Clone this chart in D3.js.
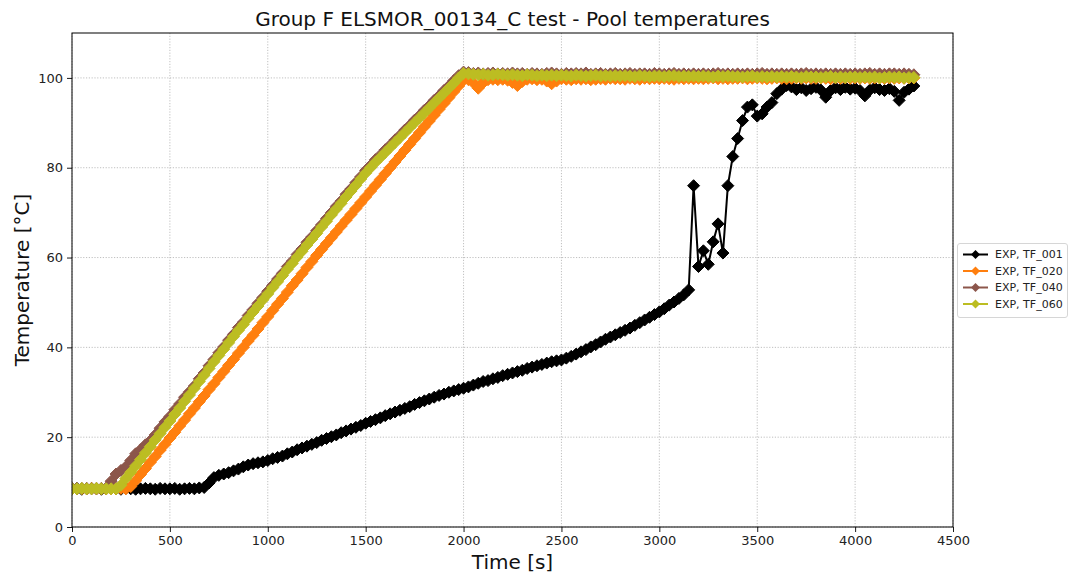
<!DOCTYPE html>
<html><head><meta charset="utf-8">
<script src="https://cdn.jsdelivr.net/npm/d3@7"></script>
<style>body{margin:0;background:#fff} text{font-family:"DejaVu Sans",sans-serif}</style>
</head><body><svg id="c" width="1070" height="575"></svg>
<script>
const time = [
0,25,50,75,100,125,150,175,
200,225,250,275,300,325,350,375,
400,425,450,475,500,525,550,575,
600,625,650,675,700,725,750,775,
800,825,850,875,900,925,950,975,
1000,1025,1050,1075,1100,1125,1150,1175,
1200,1225,1250,1275,1300,1325,1350,1375,
1400,1425,1450,1475,1500,1525,1550,1575,
1600,1625,1650,1675,1700,1725,1750,1775,
1800,1825,1850,1875,1900,1925,1950,1975,
2000,2025,2050,2075,2100,2125,2150,2175,
2200,2225,2250,2275,2300,2325,2350,2375,
2400,2425,2450,2475,2500,2525,2550,2575,
2600,2625,2650,2675,2700,2725,2750,2775,
2800,2825,2850,2875,2900,2925,2950,2975,
3000,3025,3050,3075,3100,3125,3150,3175,
3200,3225,3250,3275,3300,3325,3350,3375,
3400,3425,3450,3475,3500,3525,3550,3575,
3600,3625,3650,3675,3700,3725,3750,3775,
3800,3825,3850,3875,3900,3925,3950,3975,
4000,4025,4050,4075,4100,4125,4150,4175,
4200,4225,4250,4275,4300];

const tf001 = [
8.5,8.6,8.4,8.5,8.6,8.5,8.4,8.5,
8.6,8.5,8.4,8.6,8.5,8.4,8.5,8.6,
8.5,8.4,8.6,8.5,8.5,8.6,8.4,8.5,
8.6,8.5,8.7,8.8,9.8,11.0,11.5,11.8,
12.1,12.5,12.9,13.4,13.8,14.1,14.3,14.5,
14.8,15.2,15.5,15.8,16.3,16.7,17.2,17.6,
18.0,18.4,18.8,19.3,19.7,20.1,20.5,21.0,
21.4,21.8,22.2,22.6,23.1,23.5,23.9,24.3,
24.8,25.2,25.6,26.0,26.4,26.8,27.3,27.7,
28.1,28.5,28.9,29.3,29.6,30.0,30.3,30.6,
30.9,31.2,31.6,32.0,32.4,32.6,33.0,33.3,
33.7,34.0,34.3,34.6,34.9,35.3,35.6,35.9,
36.2,36.5,36.8,37.0,37.2,37.6,38.0,38.5,
39.0,39.5,40.1,40.6,41.2,41.8,42.3,42.8,
43.3,43.8,44.3,44.9,45.5,46.1,46.7,47.3,
47.9,48.6,49.4,50.1,50.9,51.7,52.8,76.0,
58.0,61.5,58.5,63.5,67.5,61.0,76.0,82.5,
86.5,90.5,93.5,94.0,91.5,92.0,93.5,94.5,
96.5,97.5,98.3,98.0,97.4,97.8,97.2,97.6,
97.9,97.3,95.7,97.2,97.8,97.4,97.9,97.5,
97.7,97.2,96.0,97.3,97.8,97.4,97.2,97.6,
97.0,95.0,96.8,97.5,98.2];

const tf020 = [
8.5,8.5,8.5,8.5,8.6,8.5,8.5,8.5,
8.5,8.5,8.6,8.5,9.0,10.3,11.7,13.0,
14.4,15.7,17.1,18.4,19.8,21.1,22.5,23.8,
25.2,26.5,27.9,29.2,30.6,31.9,33.3,34.6,
36.0,37.3,38.7,40.0,41.4,42.7,44.1,45.5,
46.8,48.2,49.6,50.9,52.3,53.7,55.0,56.4,
57.8,59.1,60.5,61.8,63.1,64.4,65.7,67.0,
68.3,69.6,70.9,72.2,73.5,74.8,76.1,77.4,
78.7,80.0,81.3,82.6,83.9,85.2,86.5,87.8,
89.1,90.4,91.7,93.0,94.3,95.6,96.9,98.2,
99.5,99.6,98.9,97.7,98.9,99.6,99.7,99.6,
99.7,99.5,99.0,98.3,99.2,99.7,99.8,99.6,
99.7,99.3,98.7,99.3,99.8,99.7,99.6,99.8,
99.7,99.8,99.6,99.7,99.8,99.7,99.9,99.8,
99.8,99.7,99.9,99.8,99.7,99.9,99.8,99.9,
99.8,99.9,99.8,99.7,99.9,99.8,99.9,99.8,
99.9,99.8,99.9,100.0,99.8,99.9,99.8,99.9,
99.9,100.0,99.8,99.9,100.0,99.9,99.8,99.9,
100.0,99.9,99.8,99.9,100.0,99.9,100.0,99.9,
99.9,100.0,99.9,99.8,100.0,99.9,100.0,99.9,
100.0,99.9,100.0,99.9,100.0,100.0,99.9,100.0,
99.9,100.0,99.9,100.0,100.0];

const tf040 = [
8.6,8.5,8.6,8.6,8.5,8.6,8.6,8.7,
10.2,11.8,12.6,13.4,14.8,16.3,17.2,18.3,
19.2,20.5,22.0,23.4,24.6,26.1,27.4,28.9,
30.1,31.4,33.0,34.3,35.9,37.3,38.8,40.1,
41.6,42.9,44.4,45.6,47.1,48.4,49.8,51.1,
52.5,53.8,55.2,56.5,58.0,59.2,60.7,61.9,
63.4,64.6,66.0,67.3,68.7,70.0,71.4,72.6,
74.1,75.3,76.7,78.0,79.4,80.5,81.8,82.8,
84.0,85.0,86.2,87.2,88.4,89.4,90.6,91.6,
92.8,93.8,95.0,96.0,97.2,98.2,99.4,100.5,
101.3,101.2,101.0,101.1,100.9,101.0,101.1,100.9,
101.0,100.9,101.1,100.9,101.0,100.8,101.0,100.9,
100.8,101.0,101.1,100.9,100.8,101.0,100.9,101.0,
100.9,101.1,100.8,100.9,101.0,100.8,100.9,101.0,
100.8,100.9,101.0,100.8,100.9,100.9,100.8,101.0,
100.9,100.8,100.9,101.0,100.8,100.9,100.8,100.9,
100.8,100.9,100.8,100.9,101.0,100.8,100.9,100.8,
100.9,100.8,100.9,100.8,100.9,101.0,100.8,100.9,
100.8,100.9,100.8,100.9,100.8,100.9,101.0,100.8,
100.9,100.8,100.9,100.8,100.9,100.8,100.9,100.8,
100.9,100.8,100.9,101.0,100.8,100.9,100.8,100.9,
100.9,100.8,100.9,100.8,100.7];

const tf060 = [
8.5,8.5,8.6,8.5,8.5,8.6,8.5,8.5,
8.5,8.5,9.3,10.8,12.2,13.6,15.0,16.5,
17.9,19.4,20.8,22.2,23.6,25.1,26.5,28.0,
29.4,30.9,32.4,33.8,35.3,36.8,38.2,39.6,
41.0,42.4,43.8,45.1,46.5,47.9,49.2,50.6,
51.9,53.3,54.6,56.0,57.4,58.7,60.1,61.4,
62.8,64.1,65.4,66.8,68.1,69.5,70.8,72.1,
73.5,74.8,76.1,77.5,78.8,80.0,81.2,82.3,
83.4,84.5,85.6,86.7,87.8,88.9,90.0,91.1,
92.2,93.3,94.4,95.5,96.6,97.7,98.8,100.0,
101.0,100.9,100.8,100.7,100.8,100.6,100.7,100.8,
100.7,100.6,100.7,100.6,100.5,100.7,100.6,100.5,
100.6,100.5,100.6,100.5,100.6,100.5,100.4,100.6,
100.5,100.4,100.5,100.6,100.4,100.5,100.4,100.5,
100.4,100.5,100.4,100.3,100.5,100.4,100.3,100.4,
100.4,100.3,100.4,100.5,100.3,100.4,100.3,100.4,
100.3,100.4,100.3,100.2,100.4,100.3,100.4,100.3,
100.3,100.2,100.3,100.4,100.2,100.3,100.2,100.3,
100.2,100.3,100.2,100.3,100.2,100.1,100.3,100.2,
100.2,100.1,100.2,100.3,100.1,100.2,100.1,100.2,
100.2,100.1,100.2,100.1,100.2,100.0,100.1,100.2,
100.1,100.2,100.0,100.1,100.1];

const seriesNames = ["EXP, TF_001","EXP, TF_020","EXP, TF_040","EXP, TF_060"];
const seriesColors = ["#000000","#ff7f0e","#8c564b","#bcbd22"];
const seriesValues = [tf001, tf020, tf040, tf060];
const xTicks = [0,500,1000,1500,2000,2500,3000,3500,4000,4500];
const yTicks = [0,20,40,60,80,100];

const svg = d3.select("#c");
const L=72, R=953, T=33, B=527;
const x = d3.scaleLinear().domain([0,4500]).range([L,R]);
const y = d3.scaleLinear().domain([0,110]).range([B,T]);

// grid
const grid = svg.append("g").attr("stroke","#b0b0b0").attr("stroke-width",0.8).attr("stroke-dasharray","1.2,1.6");
xTicks.forEach(v=>grid.append("line").attr("x1",x(v)).attr("x2",x(v)).attr("y1",T).attr("y2",B));
yTicks.forEach(v=>grid.append("line").attr("x1",L).attr("x2",R).attr("y1",y(v)).attr("y2",y(v)));

// clip
svg.append("clipPath").attr("id","clip").append("rect").attr("x",L).attr("y",T).attr("width",R-L).attr("height",B-T);
const plot = svg.append("g").attr("clip-path","url(#clip)");
const r = 6;
const diamond = `M0,${-r}L${r},0L0,${r}L${-r},0Z`;
const line = d3.line().x((d,i)=>x(time[i])).y(d=>y(d));
seriesValues.forEach((vals,k)=>{
  const g = plot.append("g");
  g.append("path").attr("d",line(vals)).attr("fill","none").attr("stroke",seriesColors[k]).attr("stroke-width",2);
  g.selectAll("path.m").data(vals).join("path").attr("class","m")
    .attr("d",diamond).attr("transform",(d,i)=>`translate(${x(time[i])},${y(d)})`)
    .attr("fill",seriesColors[k]).attr("stroke",seriesColors[k]).attr("stroke-width",1);
});

// axes
const ax = svg.append("g").attr("transform",`translate(0,${B})`)
  .call(d3.axisBottom(x).tickValues(xTicks).tickFormat(d3.format("d")).tickSize(5).tickPadding(4));
const ay = svg.append("g").attr("transform",`translate(${L},0)`)
  .call(d3.axisLeft(y).tickValues(yTicks).tickFormat(d3.format("d")).tickSize(5).tickPadding(4));
[ax,ay].forEach(a=>{
  a.select(".domain").remove();
  a.selectAll("line").attr("stroke","#000").attr("stroke-width",0.9);
  a.selectAll("text").attr("font-size",13).attr("fill","#222").attr("font-family","DejaVu Sans");
});
svg.append("rect").attr("x",L).attr("y",T).attr("width",R-L).attr("height",B-T)
  .attr("fill","none").attr("stroke","#000").attr("stroke-width",1);

// titles
svg.append("text").attr("x",(L+R)/2).attr("y",26).attr("text-anchor","middle")
  .attr("font-size",20).attr("fill","#111").text("Group F ELSMOR_00134_C test - Pool temperatures");
svg.append("text").attr("x",(L+R)/2).attr("y",569).attr("text-anchor","middle")
  .attr("font-size",20).attr("fill","#111").text("Time [s]");
svg.append("text").attr("transform",`translate(29,${(T+B)/2}) rotate(-90)`).attr("text-anchor","middle")
  .attr("font-size",20).attr("fill","#111").text("Temperature [°C]");

// legend
const lg = svg.append("g");
lg.append("rect").attr("x",957.5).attr("y",243.5).attr("width",110).attr("height",74).attr("rx",2.5)
  .attr("fill","#fff").attr("stroke","#d6d6d6").attr("stroke-width",1);
const rl = 4.5;
const diamondL = `M0,${-rl}L${rl},0L0,${rl}L${-rl},0Z`;
seriesNames.forEach((n,k)=>{
  const yy = 254.5 + k*16.5;
  lg.append("line").attr("x1",963).attr("x2",988).attr("y1",yy).attr("y2",yy).attr("stroke",seriesColors[k]).attr("stroke-width",2);
  lg.append("path").attr("d",diamondL).attr("transform",`translate(975.5,${yy})`).attr("fill",seriesColors[k]);
  lg.append("text").attr("x",995).attr("y",yy).attr("dy","0.36em").attr("font-size",11).attr("fill","#222").text(n);
});
</script></body></html>
